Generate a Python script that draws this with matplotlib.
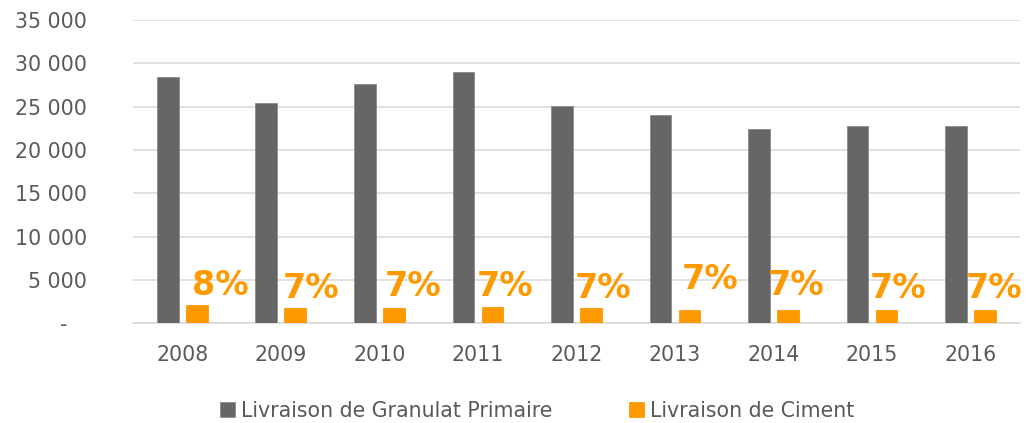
import matplotlib.pyplot as plt
import numpy as np

plt.rcParams['font.family'] = ['DejaVu Sans']

# Data
years = ['2008', '2009', '2010', '2011', '2012', '2013', '2014', '2015', '2016']
granulat = [28400, 25400, 27600, 29000, 25050, 24050, 22400, 22750, 22750]
ciment = [2080, 1730, 1700, 1880, 1700, 1500, 1500, 1500, 1500]
pct_labels = ['8%', '7%', '7%', '7%', '7%', '7%', '7%', '7%', '7%']

# label placement (moved by hand in the original)
label_dx = [0.10, 0.02, 0.055, -0.01, -0.02, 0.07, -0.06, -0.025, -0.05]
label_y = [4390, 4040, 4270, 4270, 4040, 5080, 4390, 4040, 4040]

gray = '#666666'
orange = '#FF9900'
text_col = '#595959'

fig = plt.figure(figsize=(10.27, 4.23), dpi=100)
ax = fig.add_axes([0.1295, 0.236, 0.8635, 0.717])

x = np.arange(len(years))
w = 0.22
off = 0.147
ax.bar(x - off, granulat, width=w, color=gray, edgecolor='#8a8a8a', linewidth=0.6,
       label='Livraison de Granulat Primaire', zorder=3)
ax.bar(x + off, ciment, width=w, color=orange, edgecolor=orange, linewidth=0.6,
       label='Livraison de Ciment', zorder=3)

for i, lab in enumerate(pct_labels):
    ax.text(x[i] + label_dx[i], label_y[i], lab, ha='left', va='center',
            fontsize=24, fontweight='bold', color=orange, zorder=4)

ax.set_xlim(-0.5, len(years) - 0.5)
ax.set_ylim(0, 35000)
yt = np.arange(0, 35001, 5000)
ax.set_yticks(yt)
ax.set_yticklabels(['-   '] + [f'{v:,}'.replace(',', ' ') for v in yt[1:]])
ax.set_xticks(x)
ax.set_xticklabels(years)
ax.tick_params(axis='y', length=0, pad=33, labelsize=14.8, labelcolor=text_col)
ax.tick_params(axis='x', length=0, pad=16, labelsize=14.8, labelcolor=text_col)

ax.yaxis.grid(True, color='#d9d9d9', linewidth=1.1, zorder=0)
for s in ['top', 'right', 'left']:
    ax.spines[s].set_visible(False)
ax.spines['bottom'].set_color('#d9d9d9')
ax.spines['bottom'].set_linewidth(1.1)

leg = fig.legend(loc='lower center', bbox_to_anchor=(0.523, 0.005), ncol=2, frameon=False,
                 fontsize=14.8, handlelength=0.75, handleheight=0.75, handletextpad=0.3,
                 columnspacing=3.7, labelcolor=text_col, borderaxespad=0, borderpad=0)

fig.savefig('out.png', dpi=100)
